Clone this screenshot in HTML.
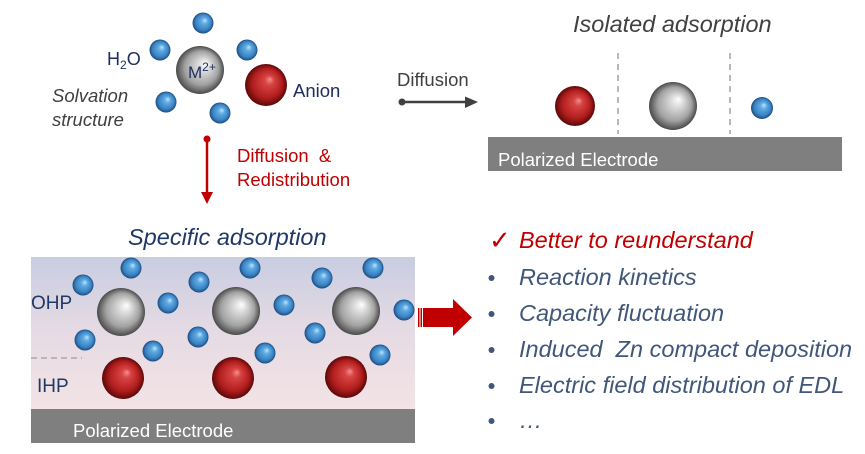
<!DOCTYPE html>
<html><head><meta charset="utf-8"><style>
html,body{margin:0;padding:0;background:#fff;}
svg{display:block;}
text{font-family:"Liberation Sans","DejaVu Sans",sans-serif;}
</style></head><body>
<svg width="865" height="454" viewBox="0 0 865 454" xmlns="http://www.w3.org/2000/svg">
<defs>
<radialGradient id="g" cx="0.5" cy="0.5" r="0.5" fx="0.62" fy="0.36">
<stop offset="0" stop-color="#ffffff"/><stop offset="0.25" stop-color="#dcdcdc"/><stop offset="0.7" stop-color="#a2a2a2"/><stop offset="1" stop-color="#4a4a4a"/></radialGradient>
<radialGradient id="r" cx="0.5" cy="0.5" r="0.5" fx="0.6" fy="0.36">
<stop offset="0" stop-color="#f29090"/><stop offset="0.22" stop-color="#d84444"/><stop offset="0.7" stop-color="#b21e1e"/><stop offset="1" stop-color="#5c0808"/></radialGradient>
<radialGradient id="b" cx="0.5" cy="0.5" r="0.5" fx="0.6" fy="0.36">
<stop offset="0" stop-color="#bfe4ff"/><stop offset="0.3" stop-color="#5eaae2"/><stop offset="0.75" stop-color="#3a82c2"/><stop offset="1" stop-color="#1b4c82"/></radialGradient>
<linearGradient id="bg" x1="0" y1="0" x2="0" y2="1">
<stop offset="0" stop-color="#c8cde1"/><stop offset="0.5" stop-color="#e6dbe4"/><stop offset="1" stop-color="#f3e3e5"/></linearGradient>
</defs>

<!-- Solvation structure -->
<circle cx="203" cy="23" r="10.5" fill="url(#b)"/>
<circle cx="160" cy="50" r="10.5" fill="url(#b)"/>
<circle cx="247" cy="50" r="10.5" fill="url(#b)"/>
<circle cx="166" cy="102" r="10.5" fill="url(#b)"/>
<circle cx="220" cy="113" r="10.5" fill="url(#b)"/>
<circle cx="200" cy="70" r="24" fill="url(#g)"/>
<circle cx="266" cy="85" r="21" fill="url(#r)"/>
<text x="188" y="78" font-size="17" fill="#1f2d5c">M<tspan font-size="12" dy="-7">2+</tspan></text>
<text x="107" y="65" font-size="18" fill="#1f2d5c">H<tspan font-size="12" dy="4">2</tspan><tspan dy="-4">O</tspan></text>
<text x="293" y="97" font-size="18.5" fill="#1f2d5c">Anion</text>
<text x="52" y="102" font-size="18.5" font-style="italic" fill="#404040">Solvation</text>
<text x="52" y="126" font-size="18.5" font-style="italic" fill="#404040">structure</text>

<!-- red down arrow -->
<circle cx="207" cy="139" r="3.5" fill="#c00000"/>
<line x1="207" y1="139" x2="207" y2="193" stroke="#c00000" stroke-width="2.5"/>
<polygon points="201,192 213,192 207,204" fill="#c00000"/>
<text x="237" y="162" font-size="18.5" fill="#c00000" xml:space="preserve">Diffusion  &amp;</text>
<text x="237" y="186" font-size="18.5" fill="#c00000">Redistribution</text>

<!-- Diffusion arrow -->
<text x="397" y="86" font-size="18.5" fill="#404040">Diffusion</text>
<circle cx="402" cy="102" r="3.5" fill="#404040"/>
<line x1="402" y1="102" x2="466" y2="102" stroke="#404040" stroke-width="2.5"/>
<polygon points="465,96.5 465,108 478,102" fill="#404040"/>

<!-- Isolated adsorption -->
<text x="573" y="32" font-size="23.5" font-style="italic" fill="#404040">Isolated adsorption</text>
<line x1="618" y1="53" x2="618" y2="134" stroke="#707070" stroke-width="1" stroke-dasharray="6,5"/>
<line x1="730" y1="53" x2="730" y2="134" stroke="#707070" stroke-width="1" stroke-dasharray="6,5"/>
<rect x="488" y="137" width="354" height="34" fill="#7f7f7f"/>
<text x="498" y="166" font-size="18.5" fill="#ffffff">Polarized Electrode</text>
<circle cx="575" cy="106" r="20" fill="url(#r)"/>
<circle cx="673" cy="106" r="24" fill="url(#g)"/>
<circle cx="762" cy="108" r="11" fill="url(#b)"/>

<!-- Specific adsorption -->
<text x="128" y="245" font-size="23.5" font-style="italic" fill="#1f3864">Specific adsorption</text>
<rect x="31" y="257" width="384" height="152" fill="url(#bg)"/>
<rect x="31" y="409" width="384" height="34" fill="#7f7f7f"/>
<text x="73" y="437" font-size="18.5" fill="#ffffff">Polarized Electrode</text>
<text x="31" y="309" font-size="19" fill="#1f3864">OHP</text>
<text x="37" y="392" font-size="19" fill="#1f3864">IHP</text>
<line x1="31" y1="358" x2="82" y2="358" stroke="#8a8a9a" stroke-width="1" stroke-dasharray="6,4"/>

<circle cx="121" cy="312" r="24" fill="url(#g)"/>
<circle cx="236" cy="311" r="24" fill="url(#g)"/>
<circle cx="356" cy="311" r="24" fill="url(#g)"/>
<circle cx="123" cy="378" r="21" fill="url(#r)"/>
<circle cx="233" cy="378" r="21" fill="url(#r)"/>
<circle cx="346" cy="377" r="21" fill="url(#r)"/>

<g fill="url(#b)">
<circle cx="131" cy="268" r="10.5"/>
<circle cx="83" cy="285" r="10.5"/>
<circle cx="168" cy="303" r="10.5"/>
<circle cx="199" cy="282" r="10.5"/>
<circle cx="250" cy="268" r="10.5"/>
<circle cx="284" cy="305" r="10.5"/>
<circle cx="322" cy="278" r="10.5"/>
<circle cx="373" cy="268" r="10.5"/>
<circle cx="404" cy="310" r="10.5"/>
<circle cx="85" cy="340" r="10.5"/>
<circle cx="153" cy="351" r="10.5"/>
<circle cx="198" cy="337" r="10.5"/>
<circle cx="265" cy="353" r="10.5"/>
<circle cx="315" cy="333" r="10.5"/>
<circle cx="380" cy="355" r="10.5"/>
</g>

<!-- block arrow -->
<rect x="418" y="308" width="1.5" height="19" fill="#c00000"/>
<rect x="420.5" y="308" width="1.5" height="19" fill="#c00000"/>
<polygon points="423,308 453,308 453,299 472,317.5 453,336 453,327 423,327" fill="#c00000"/>

<!-- list -->
<text x="489" y="249" font-size="26" font-style="italic" fill="#c00000" font-family="DejaVu Sans, sans-serif">✓</text>
<text x="519" y="248" font-size="23.5" font-style="italic" fill="#c00000">Better to reunderstand</text>
<g fill="#40577a">
<circle cx="491.5" cy="278" r="3"/>
<circle cx="491.5" cy="314" r="3"/>
<circle cx="491.5" cy="350" r="3"/>
<circle cx="491.5" cy="386" r="3"/>
<circle cx="491.5" cy="421" r="3"/>
</g>
<g fill="#40577a" font-size="23.5" font-style="italic">
<text x="519" y="285">Reaction kinetics</text>
<text x="519" y="321">Capacity fluctuation</text>
<text x="519" y="357" xml:space="preserve">Induced  Zn compact deposition</text>
<text x="519" y="393">Electric field distribution of EDL</text>
<text x="519" y="428">…</text>
</g>
</svg>
</body></html>
